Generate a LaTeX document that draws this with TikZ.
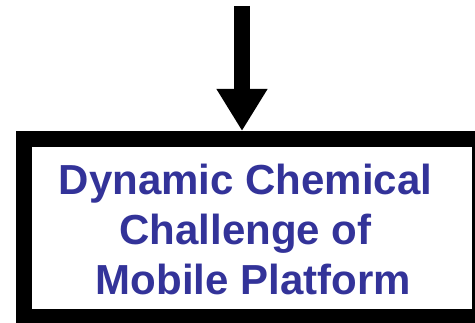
\documentclass[tikz,border=0pt]{standalone}
\usepackage{fontspec}
\setmainfont{Liberation Sans}
\usetikzlibrary{arrows.meta}
\definecolor{TitleBlue}{HTML}{333399}
\begin{document}
\begin{tikzpicture}[x=1pt,y=-1pt]
  \useasboundingbox (0,0) rectangle (475,323); \clip (0,0) rectangle (475,323);
  \node[draw,line width=16pt,minimum width=456pt,minimum height=178pt] (box) at (252,228) {};
  \node[TitleBlue,font=\bfseries\fontsize{42}{50}\selectfont,align=center] (title) at (245.5,229) {Dynamic Chemical\\Challenge of\\\hspace{16pt}Mobile Platform};
  \coordinate (top) at (242,6);
  \draw[-{Triangle[width=48pt,length=42pt]},line width=16pt] (top) -- (top |- box.north);
\end{tikzpicture}
\end{document}
